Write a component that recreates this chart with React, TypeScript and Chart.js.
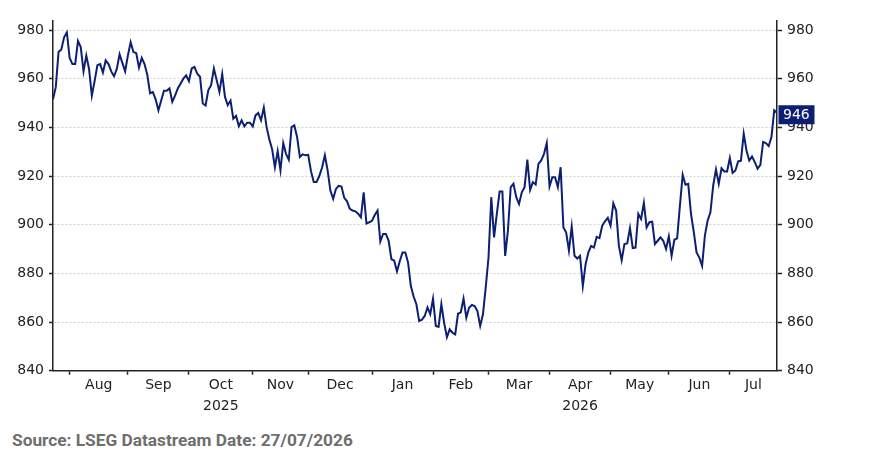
import { useEffect, useRef } from 'react';
import { Chart, registerables } from 'chart.js';

Chart.register(...registerables);

// daily closes, one value per trading day (weekdays), 24 Jul 2025 -> 24 Jul 2026
const jul2025 = [951.5, 956.5, 971, 972, 977, 979];
const aug2025 = [968.5, 966, 966, 975.5, 973, 963, 969.5, 964, 953, 959, 965.5, 966, 962.5, 967.5, 966, 963, 961, 964, 970, 966.5, 963];
const sep2025 = [969.5, 975, 971, 970.5, 964.5, 968.5, 966, 961.5, 954, 954.5, 951.5, 947, 951, 955, 955, 956, 950.5, 953, 956, 958, 960, 961.4];
const oct2025 = [959, 964.2, 964.8, 962, 960.8, 949.8, 949, 955.3, 957.3, 964.2, 959.4, 954.6, 961.9, 952.5, 949.1, 951, 943.6, 944.7, 940.5, 942.9, 940.4, 941.9, 941.9];
const nov2025 = [940.4, 944.9, 945.9, 942.9, 948.1, 940.1, 935, 931, 923.6, 930.2, 922.3, 933.5, 929.1, 926.7, 940.1, 940.8, 936, 927.8, 928.9, 928.5];
const dec2025 = [928.7, 922, 917.5, 917.5, 920, 923.5, 928.5, 922.3, 914, 910.6, 914.7, 916, 915.7, 911, 909.6, 906.5, 905.8, 905.5, 904.5, 903, 913.3, 900.5, 901];
const jan2026 = [901.6, 904, 905.8, 893.1, 896.2, 896.2, 893.4, 885.8, 885.2, 880.8, 885, 888.6, 888.6, 884.5, 874.8, 870.5, 867.3, 860.4, 861, 862.5, 866, 863.2];
const feb2026 = [869.6, 858.4, 858, 867.3, 859.7, 853.8, 857, 855.6, 854.9, 863.4, 864, 869.6, 861.8, 865.9, 867, 866.6, 864.5, 858.4, 863.2, 874.2];
const mar2026 = [886.5, 911.3, 894.8, 904.4, 913.6, 913.6, 887.2, 897.5, 915.4, 916.8, 911.3, 908.5, 913.3, 915.4, 926.7, 914.3, 917.5, 916.5, 925, 926.4, 929.1, 933.5];
const apr2026 = [915.7, 919.5, 919.5, 915.4, 923.6, 898.9, 896.8, 889.3, 899.2, 887.2, 886.1, 887.2, 874.8, 883.8, 888.6, 891.3, 890.6, 895, 894.5, 899.6, 901.4, 902.8];
const may2026 = [899.6, 908.8, 905.8, 891.3, 885.4, 892, 892.3, 898.6, 890.4, 890.6, 904.4, 902.3, 909, 898.9, 901, 901.2, 892, 893.4, 894.8, 893.4, 890];
const jun2026 = [895.2, 887.2, 893.8, 894.4, 907.8, 920.5, 916.4, 916.8, 904.4, 897, 888.6, 886.5, 883.1, 895.5, 901.7, 905.1, 916.1, 922.7, 916.8, 923.2, 921.9, 921.9];
const jul2026 = [927.4, 921.3, 922.3, 926, 926.3, 937.4, 930.5, 926.4, 928, 925.7, 923, 924.6, 934, 933.5, 932.3, 936, 947, 946];

const months = [jul2025, aug2025, sep2025, oct2025, nov2025, dec2025, jan2026, feb2026, mar2026, apr2026, may2026, jun2026, jul2026];
const monthLabels = ['', 'Aug', 'Sep', 'Oct', 'Nov', 'Dec', 'Jan', 'Feb', 'Mar', 'Apr', 'May', 'Jun', 'Jul'];
const yearLabels = ['', '', '', '2025', '', '', '', '', '', '2026', '', '', ''];
const yTicks = [840, 860, 880, 900, 920, 940, 960, 980];
const lastValue = 946;

const NAVY = '#0c1f73';
const INK = '#222222';
const FONT = '"DejaVu Sans", Verdana, sans-serif';

const lastValuePlugin = {
  id: 'lastValue',
  afterDraw(chart: any) {
    const { ctx, chartArea, scales } = chart;
    const y = scales.y.getPixelForValue(lastValue) + 2;
    ctx.save();
    ctx.fillStyle = NAVY;
    ctx.fillRect(chartArea.right + 1.5, y - 9.5, 36, 19);
    ctx.fillStyle = '#ffffff';
    ctx.font = `14px ${FONT}`;
    ctx.textAlign = 'left';
    ctx.textBaseline = 'middle';
    ctx.fillText(String(lastValue), chartArea.right + 6, y + 0.5);
    ctx.restore();
  },
};

export default function App() {
  const canvasRef = useRef<HTMLCanvasElement>(null);

  useEffect(() => {
    if (!canvasRef.current) return;

    // trading-day positions, month boundaries and mid-month label slots
    const points: { x: number; y: number }[] = [];
    const starts: number[] = [];
    let i = 0;
    months.forEach((vals) => {
      starts.push(i);
      vals.forEach((v) => points.push({ x: i++, y: v }));
    });
    const xMax = i - 1;
    const tickLabels = new Map<number, string | string[]>();
    const startSet = new Set<number>(starts.slice(1));
    starts.forEach((s, m) => {
      if (!monthLabels[m]) return;
      const end = m + 1 < starts.length ? starts[m + 1] : xMax;
      const mid = (s + end) / 2;
      tickLabels.set(mid, yearLabels[m] ? [monthLabels[m], yearLabels[m]] : monthLabels[m]);
    });
    const xTickValues = [...startSet, ...tickLabels.keys()].sort((a, b) => a - b);

    const tickFont = { family: FONT, size: 14 };

    const chart = new Chart(canvasRef.current, {
      type: 'line',
      data: {
        datasets: [
          {
            data: points,
            borderColor: NAVY,
            borderWidth: 2,
            pointRadius: 0,
            tension: 0,
            fill: false,
          },
        ],
      },
      options: {
        responsive: false,
        animation: false,
        layout: { padding: { top: 21, left: 0, right: 0, bottom: 0 } },
        scales: {
          x: {
            type: 'linear',
            min: 0,
            max: xMax,
            afterBuildTicks: (s: any) => {
              s.ticks = xTickValues.map((v) => ({ value: v }));
            },
            afterFit: (s: any) => {
              s.height = 49.3;
            },
            ticks: {
              autoSkip: false,
              maxRotation: 0,
              padding: 0,
              color: INK,
              font: { ...tickFont, lineHeight: 1.5 },
              callback: (v: any) => tickLabels.get(Number(v)) ?? '',
            },
            grid: {
              drawOnChartArea: false,
              drawTicks: true,
              tickLength: 4,
              tickWidth: 1.5,
              tickColor: (ctx: any) => (ctx.tick && startSet.has(ctx.tick.value) ? INK : 'rgba(0,0,0,0)'),
            },
            border: { display: true, color: INK, width: 1.5 },
          },
          y: {
            position: 'left',
            min: 840,
            max: 983.7,
            afterBuildTicks: (s: any) => {
              s.ticks = yTicks.map((v) => ({ value: v }));
            },
            afterFit: (s: any) => {
              s.width = 53;
            },
            ticks: { color: INK, font: tickFont, padding: 5 },
            grid: {
              color: '#d4d4d4',
              lineWidth: 1,
              tickLength: 4,
              tickWidth: 1.5,
              tickColor: INK,
              tickBorderDash: [],
            },
            border: { display: true, color: INK, width: 1.5, dash: [2, 2] },
          },
          y2: {
            position: 'right',
            min: 840,
            max: 983.7,
            afterBuildTicks: (s: any) => {
              s.ticks = yTicks.map((v) => ({ value: v }));
            },
            afterFit: (s: any) => {
              s.width = 96;
            },
            ticks: { color: INK, font: tickFont, padding: 5 },
            grid: {
              drawOnChartArea: false,
              tickLength: 5,
              tickWidth: 1.5,
              tickColor: INK,
            },
            border: { display: true, color: INK, width: 1.5 },
          },
        },
        plugins: {
          legend: { display: false },
          tooltip: { enabled: true },
        },
      },
      plugins: [lastValuePlugin],
    } as any);

    return () => {
      chart.destroy();
    };
  }, []);

  return (
    <div style={{ position: 'absolute', left: 0, top: 0, width: 873, height: 475, background: '#fff' }}>
      <canvas ref={canvasRef} width={873} height={420} style={{ display: 'block', width: 873, height: 420 }} />
      <div
        style={{
          position: 'absolute',
          left: 12,
          top: 430,
          fontFamily: 'Roboto, "Noto Sans", sans-serif',
          fontWeight: 700,
          fontSize: 17.3,
          color: '#6e6e6e',
          whiteSpace: 'nowrap',
        }}
      >
        Source: LSEG Datastream Date: 27/07/2026
      </div>
    </div>
  );
}
